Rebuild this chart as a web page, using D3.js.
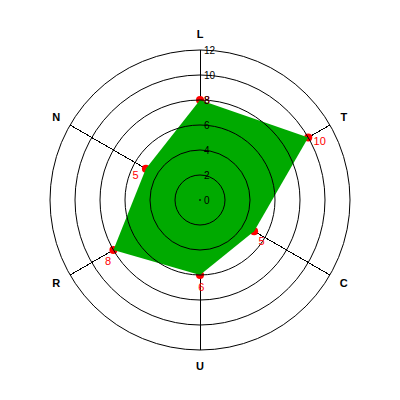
<!DOCTYPE html>
<html>
<head>
<meta charset="utf-8">
<script src="https://cdn.jsdelivr.net/npm/d3@7/dist/d3.min.js"></script>
<style>
  html, body { margin: 0; padding: 0; background: #fff; }
  svg { display: block; }
</style>
</head>
<body>
<svg id="chart" width="400" height="400"></svg>
<script>
// ---- data ----
const axisNames = ["L", "T", "C", "U", "R", "N"];
const seriesValues = [8, 10, 5, 6, 8, 5];
const tickValues = [0, 2, 4, 6, 8, 10, 12];

// ---- layout ----
const W = 400, H = 400;
const cx = 200, cy = 200;
const outerR = 150;
const maxVal = 12;

const svg = d3.select("#chart");
const g = svg.append("g").attr("transform", `translate(${cx},${cy})`);

const r = d3.scaleLinear().domain([0, maxVal]).range([0, outerR]);
const angle = d3.scalePoint().domain(axisNames).range([0, 2 * Math.PI * (axisNames.length) / axisNames.length]).padding(0);
// angle for each axis: i * 360/n, clockwise from top
const ang = name => axisNames.indexOf(name) * 2 * Math.PI / axisNames.length;
const px = (a, rad) => Math.sin(a) * rad;
const py = (a, rad) => -Math.cos(a) * rad;

// spokes
g.selectAll("line.spoke").data(axisNames).join("line")
  .attr("class", "spoke")
  .attr("x1", 0).attr("y1", 0)
  .attr("x2", d => px(ang(d), r(maxVal)))
  .attr("y2", d => py(ang(d), r(maxVal)))
  .attr("stroke", "#000").attr("stroke-width", 1)
  .attr("shape-rendering", "crispEdges");

const pts = axisNames.map((n, i) => ({ name: n, v: seriesValues[i], a: ang(n) }));

// markers (behind polygon)
g.selectAll("circle.marker").data(pts).join("circle")
  .attr("class", "marker")
  .attr("cx", d => px(d.a, r(d.v)))
  .attr("cy", d => py(d.a, r(d.v)))
  .attr("r", 4)
  .attr("fill", "#ff0000");

// polygon
const radial = d3.lineRadial()
  .angle(d => d.a)
  .radius(d => r(d.v))
  .curve(d3.curveLinearClosed);
g.append("path")
  .datum(pts)
  .attr("d", radial)
  .attr("fill", "#00aa00")
  .attr("stroke", "none");

// rings
g.selectAll("circle.ring").data(tickValues).join("circle")
  .attr("class", "ring")
  .attr("cx", 0).attr("cy", 0)
  .attr("r", d => Math.max(r(d), 0.5))
  .attr("fill", "none")
  .attr("stroke", "#000").attr("stroke-width", 1);

// value labels
g.selectAll("text.val").data(pts).join("text")
  .attr("class", "val")
  .attr("x", d => {
    if (d.a === 0) return 4;
    const phi = (0.55 * d.a * 180 / Math.PI - 15) * Math.PI / 180;
    return px(d.a, r(d.v)) + 12 * Math.cos(phi);
  })
  .attr("y", d => {
    if (d.a === 0) return py(d.a, r(d.v));
    const phi = (0.55 * d.a * 180 / Math.PI - 15) * Math.PI / 180;
    return py(d.a, r(d.v)) + 12 * Math.sin(phi);
  })
  .attr("text-anchor", d => d.a === 0 ? "start" : "middle")
  .attr("dominant-baseline", "central")
  .attr("font-family", "Liberation Sans, Arial, sans-serif")
  .attr("font-size", 11)
  .attr("fill", "#ff0000")
  .text(d => d.v);

// tick labels
g.selectAll("text.tick").data(tickValues).join("text")
  .attr("class", "tick")
  .attr("x", 4)
  .attr("y", d => -r(d))
  .attr("dominant-baseline", "central")
  .attr("font-family", "Liberation Sans, Arial, sans-serif")
  .attr("font-size", 10)
  .attr("fill", "#000")
  .text(d => d);

// axis labels
g.selectAll("text.axis").data(axisNames).join("text")
  .attr("class", "axis")
  .attr("x", d => px(ang(d), 166))
  .attr("y", d => py(ang(d), 166))
  .attr("text-anchor", "middle")
  .attr("dominant-baseline", "central")
  .attr("font-family", "Liberation Sans, Arial, sans-serif")
  .attr("font-weight", "bold")
  .attr("font-size", 11)
  .attr("fill", "#000")
  .text(d => d);
</script>
</body>
</html>
